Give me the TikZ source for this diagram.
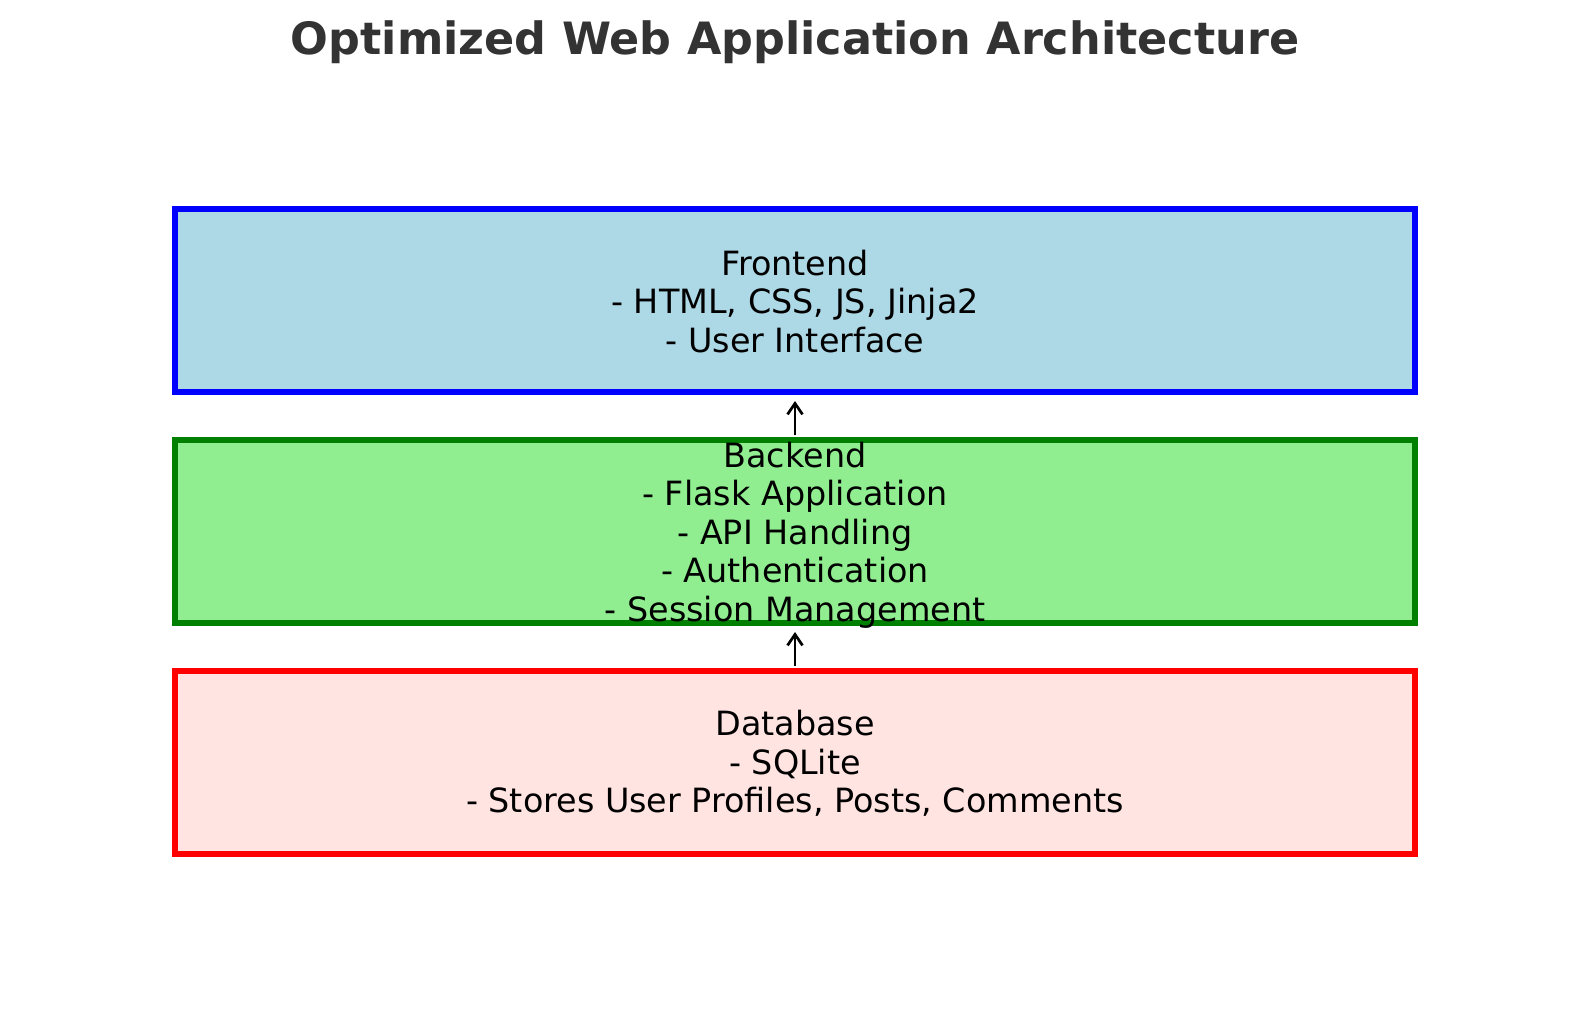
\documentclass[tikz,border=0pt]{standalone}
\usepackage{fontspec}
\setmainfont{DejaVu Sans}
\usetikzlibrary{arrows.meta}

\definecolor{titlegray}{HTML}{333333}
\definecolor{feFill}{HTML}{ADD8E6}
\definecolor{feLine}{HTML}{0000FF}
\definecolor{beFill}{HTML}{90EE90}
\definecolor{beLine}{HTML}{008000}
\definecolor{dbFill}{HTML}{FFE4E1}
\definecolor{dbLine}{HTML}{FF0000}

\tikzset{
  layerbox/.style={draw, line width=5.3bp, minimum width=1240bp,
    minimum height=183bp, inner sep=0pt, outer sep=0pt},
  layertext/.style={align=center, inner sep=0pt, text=black,
    font=\fontsize{33.4bp}{38.5bp}\selectfont},
  uparrow/.style={line width=2.7bp, black,
    -{Straight Barb[length=11bp,width=15bp,line width=2.7bp]},
    shorten <=5bp, shorten >=9bp},
}

\begin{document}
\begin{tikzpicture}[x=1bp,y=-1bp]
\useasboundingbox (0,0) rectangle (1589,1014);

\node[font=\fontsize{44.5bp}{50bp}\selectfont\bfseries, text=titlegray, inner sep=0pt]
  (title) at (795,42.5) {Optimized Web Application Architecture};

% three stacked layers
\node[layerbox, fill=feFill, draw=feLine] (frontend) at (795,300.5) {};
\node[layerbox, fill=beFill, draw=beLine] (backend)  at (795,531.5) {};
\node[layerbox, fill=dbFill, draw=dbLine] (database) at (795,762.5) {};

\node[layertext] (fetext) at ([yshift=-1bp]frontend.center)
  {Frontend\\- HTML, CSS, JS, Jinja2\\- User Interface};
\node[layertext] (betext) at ([yshift=-3.5bp]backend.center)
  {Backend\\- Flask Application\\- API Handling\\- Authentication\\- Session Management};
\node[layertext] (dbtext) at ([yshift=-1bp]database.center)
  {Database\\- SQLite\\- Stores User Profiles, Posts, Comments};

% data flows upward
\draw[uparrow] (backend.north) -- (frontend.south);
\draw[uparrow] (database.north) -- (backend.south);
\end{tikzpicture}
\end{document}
